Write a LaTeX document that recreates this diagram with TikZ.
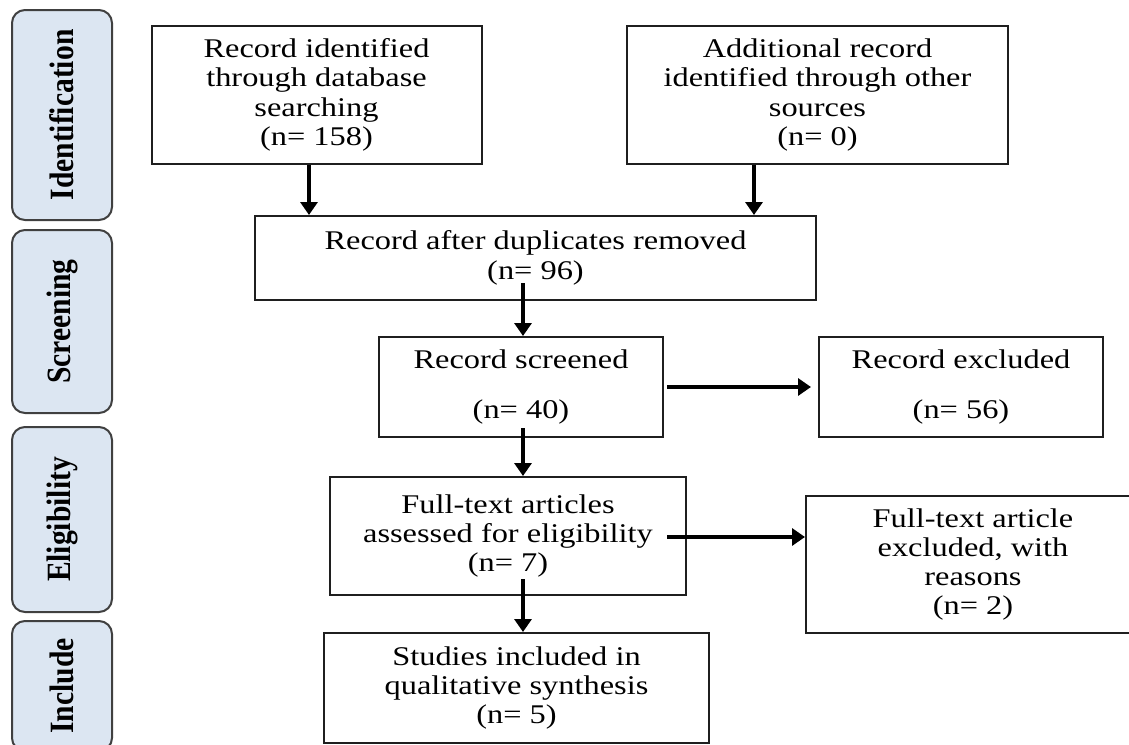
\documentclass[tikz,border=0pt]{standalone}
\usepackage{fontspec}
\setmainfont{Liberation Serif}[FakeStretch=1.2]
\newfontfamily\sidefont{Liberation Serif}[FakeStretch=0.87]
\usetikzlibrary{arrows.meta,calc}
\definecolor{sidefill}{RGB}{220,230,242}
\definecolor{sideline}{RGB}{64,64,64}
\begin{document}
\begin{tikzpicture}[x=1pt,y=-1pt,
  box/.style={draw=black!88, line width=2pt, align=center, inner sep=0pt,
    font=\fontsize{27}{29.3}\selectfont},
  side/.style={draw=sideline, line width=2pt, fill=sidefill, rounded corners=13pt,
    minimum height=100pt, rotate=90, inner sep=0pt,
    font=\sidefont\bfseries\fontsize{34}{36}\selectfont},
  arr/.style={line width=3.2pt, -{Triangle[width=17pt,length=13pt]}}]
\useasboundingbox (0,0) rectangle (1129,744);

% phase labels
\node[side, minimum width=210pt] (id) at (62,115) {Identification};
\node[side, minimum width=183pt] (sc) at (62,321.5) {Screening};
\node[side, minimum width=185pt] (el) at (62,519.5) {Eligibility};
\node[side, minimum width=130pt] (in) at (62,686) {Include};

% boxes
\node[box, minimum width=330pt, minimum height=138pt] (b1) at (316.5,95)
  {Record identified\\through database\\searching\\(n= 158)};
\node[box, minimum width=381pt, minimum height=138pt] (b2) at (817.5,95)
  {Additional record\\identified through other\\sources\\(n= 0)};
\node[box, minimum width=561pt, minimum height=84pt] (dup) at (535.5,258)
  {Record after duplicates removed\\(n= 96)};
\node[box, minimum width=284pt, minimum height=100pt] (scr) at (521,387)
  {Record screened\\[20pt](n= 40)};
\node[box, minimum width=284pt, minimum height=100pt] (exc) at (961,387)
  {Record excluded\\[21pt](n= 56)};
\node[box, minimum width=356pt, minimum height=118pt] (ft) at (508,536)
  {Full-text articles\\assessed for eligibility\\(n= 7)};
\node[box, minimum width=334pt, minimum height=137pt] (fe) at (973,564.5)
  {Full-text article\\excluded, with\\reasons\\(n= 2)};
\node[box, minimum width=385pt, minimum height=110pt] (st) at (516.5,688)
  {Studies included in\\qualitative synthesis\\(n= 5)};

% connectors
\coordinate (p1) at ([xshift=-7.5pt]b1.south);
\draw[arr] (p1) -- (p1 |- dup.north);
\coordinate (p2) at ([xshift=-63.5pt]b2.south);
\draw[arr] (p2) -- (p2 |- dup.north);
\coordinate (p3) at ([xshift=-12.5pt,yshift=-25pt]dup.center);
\draw[arr] (p3) -- (p3 |- scr.north);
\coordinate (p4) at ([xshift=2pt,yshift=-41pt]scr.center);
\draw[arr] (p4) -- (p4 |- ft.north);
\coordinate (p5) at ([xshift=15pt,yshift=-43pt]ft.center);
\draw[arr] (p5) -- (p5 |- st.north);
\draw[arr] ([xshift=3pt]scr.east) -- ([xshift=-7pt]exc.west);
\coordinate (p6) at ([xshift=-20pt,yshift=-1pt]ft.east);
\draw[arr] (p6) -- (p6 -| fe.west);
\end{tikzpicture}
\end{document}
